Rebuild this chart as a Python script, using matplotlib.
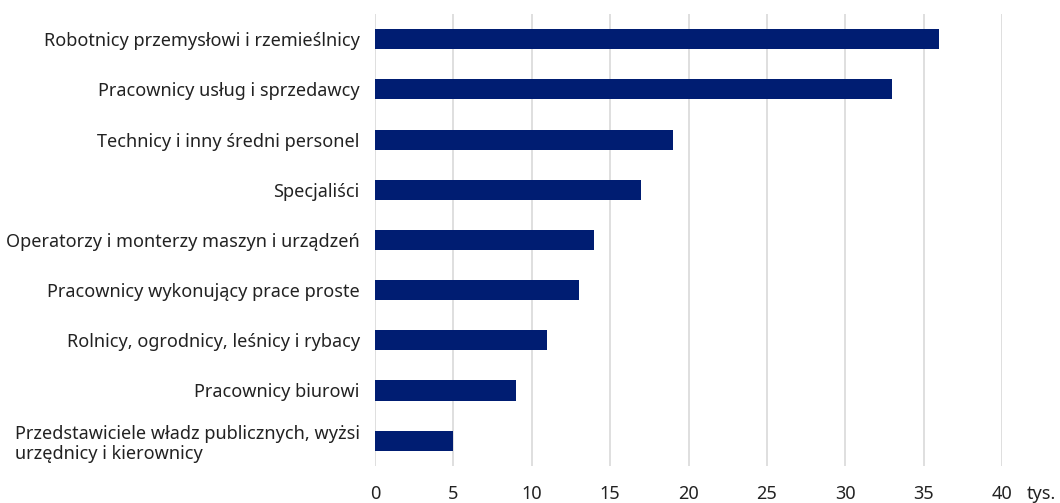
import matplotlib
matplotlib.use('Agg')
import matplotlib.pyplot as plt

categories = [
    'Robotnicy przemysłowi i rzemieślnicy',
    'Pracownicy usług i sprzedawcy',
    'Technicy i inny średni personel',
    'Specjaliści',
    'Operatorzy i monterzy maszyn i urządzeń',
    'Pracownicy wykonujący prace proste',
    'Rolnicy, ogrodnicy, leśnicy i rybacy',
    'Pracownicy biurowi',
    'Przedstawiciele władz publicznych, wyżsi\nurzędnicy i kierownicy',
]
values = [36, 33, 19, 17, 14, 13, 11, 9, 5]
xticks = [0, 5, 10, 15, 20, 25, 30, 35, 40]

plt.rcParams['font.family'] = ['Noto Sans', 'DejaVu Sans']

fig = plt.figure(figsize=(10.6, 5.03), dpi=100)
ax = fig.add_axes([0.3538, 0.074, 0.5915, 0.898])

pos = list(range(len(categories)))
ax.barh(pos, values, height=0.4, color='#001D72', zorder=3)
ax.set_ylim(len(categories) - 0.5, -0.5)
ax.set_xlim(0, 40)
ax.set_yticks(pos)
ax.set_yticklabels(categories, fontsize=13, color='#222222')
ax.get_yticklabels()[-1].set_multialignment('left')
ax.set_xticks(xticks)
ax.set_xticklabels([str(t) for t in xticks], fontsize=13, color='#222222')
ax.tick_params(axis='y', length=0, pad=11)
ax.tick_params(axis='x', length=0, pad=14)
ax.grid(axis='x', color='#D9D9D9', linewidth=1.2, zorder=0)
for s in ax.spines.values():
    s.set_visible(False)
ax.annotate('tys.', xy=(41.6, 0), xycoords=ax.get_xaxis_transform(),
            xytext=(0, -14), textcoords='offset points',
            fontsize=13, color='#222222', ha='left', va='top',
            annotation_clip=False)

fig.savefig('out.png', dpi=100)
